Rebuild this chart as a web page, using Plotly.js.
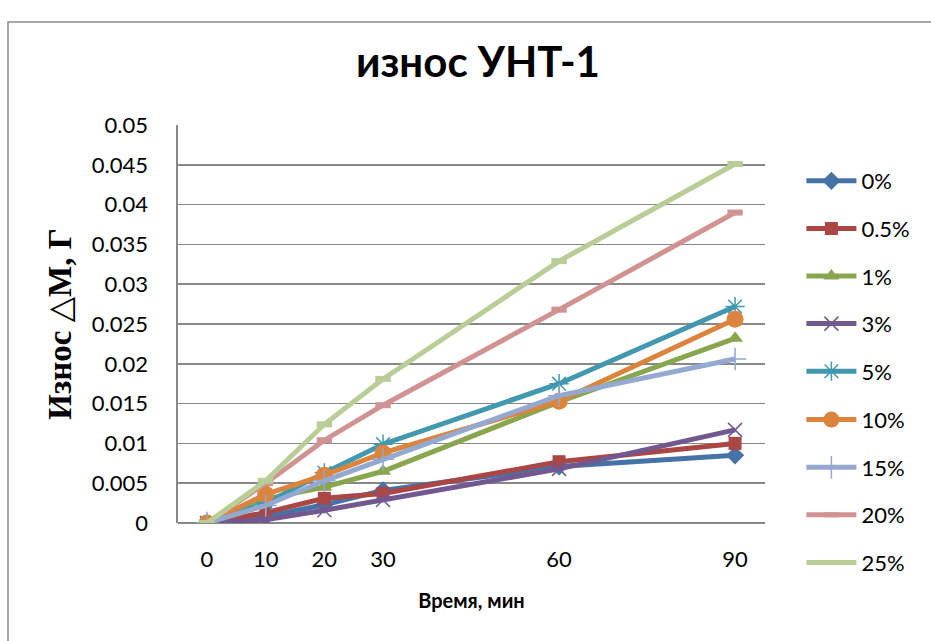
<!DOCTYPE html>
<html>
<head>
<meta charset="utf-8">
<script src="https://cdn.plot.ly/plotly-3.0.1.min.js"></script>
<style>html,body{margin:0;padding:0;background:#fff;}#chart{width:931px;height:641px;}</style>
</head>
<body>
<div id="chart"></div>
<script>
// Time, minutes
var timeMin = [0, 10, 20, 30, 60, 90];
// Wear ΔM, g per series
var seriesNames = ["0%", "0.5%", "1%", "3%", "5%", "10%", "15%", "20%", "25%"];
var s0   = [0, 0.0008, 0.0023, 0.0041, 0.0071, 0.0085];
var s05  = [0, 0.0013, 0.0031, 0.0037, 0.0077, 0.0100];
var s1   = [0, 0.0030, 0.0045, 0.0065, 0.0152, 0.0232];
var s3   = [0, 0.0004, 0.0016, 0.0029, 0.0068, 0.0117];
var s5   = [0, 0.0025, 0.0063, 0.0099, 0.0175, 0.0272];
var s10  = [0, 0.0036, 0.0060, 0.0088, 0.0153, 0.0256];
var s15  = [0, 0.0022, 0.0053, 0.0080, 0.0160, 0.0206];
var s20  = [0, 0.0050, 0.0104, 0.0148, 0.0268, 0.0390];
var s25  = [0, 0.0053, 0.0124, 0.0181, 0.0329, 0.0451];
var xTickVals = [0, 10, 20, 30, 60, 90];
var xTickText = ["0", "10", "20", "30", "60", "90"];
var yTickVals = [0, 0.005, 0.01, 0.015, 0.02, 0.025, 0.03, 0.035, 0.04, 0.045, 0.05];
var yTickText = ["0", "0.005", "0.01", "0.015", "0.02", "0.025", "0.03", "0.035", "0.04", "0.045", "0.05"];

var seriesValues = [s0, s05, s1, s3, s5, s10, s15, s20, s25];
var colors = ["#4572A7", "#AA4643", "#89A54E", "#71588F", "#4198AF", "#DB843D", "#93A9CF", "#D19392", "#B9CD96"];
var symbols = ["diamond", "square", "triangle-up", "x-thin-open", "asterisk-open", "circle", "cross-thin-open", "line-ew-open", "line-ew-open"];
var sizes = [14, 13, 14, 14, 16, 17, 16, 11, 11];

var traces = seriesNames.map(function (name, i) {
  var sym = symbols[i];
  var open = sym.indexOf("open") >= 0;
  return {
    type: "scatter",
    mode: "lines+markers",
    name: name,
    legend: i < 5 ? "legend" : "legend2",
    legendgroup: "g" + i,
    x: timeMin,
    y: seriesValues[i],
    line: { color: colors[i], width: 5 },
    marker: {
      symbol: sym,
      size: sizes[i],
      color: colors[i],
      line: { color: colors[i], width: open ? (sym.indexOf("line-ew") === 0 ? 6 : 1.5) : 0 }
    }
  };
});

var gridColor = "#888888";
var legendCommon = {
  x: 1.062, xanchor: "left",
  yanchor: "top",
  font: { size: 22 },
  traceorder: "grouped",
  tracegroupgap: 16,
  itemwidth: 50,
  bgcolor: "rgba(0,0,0,0)"
};
var legend1 = Object.assign({}, legendCommon, { y: 0.912 });
var legend2 = Object.assign({}, legendCommon, { y: 0.312 });

var layout = {
  width: 931,
  height: 641,
  paper_bgcolor: "#ffffff",
  plot_bgcolor: "#ffffff",
  margin: { l: 178, r: 166, t: 125, b: 118 },
  font: { family: "Lato, 'Open Sans', sans-serif", color: "#000000", size: 22 },
  title: {
    text: "<b>износ УНТ-1</b>",
    font: { family: "Lato, 'Open Sans', sans-serif", size: 42, color: "#000" },
    x: 0.511, xanchor: "center", xref: "paper",
    y: 68, yref: "container", yanchor: "middle"
  },
  xaxis: {
    range: [-4.94, 95.1],
    tickmode: "array",
    tickvals: xTickVals,
    ticktext: xTickText,
    showgrid: false,
    zeroline: false,
    showline: false,
    ticks: "outside",
    ticklen: 17,
    tickcolor: "rgba(0,0,0,0)",
    tickfont: { size: 22 },
    title: {
      text: "<b>Время, мин</b>",
      font: { size: 20 },
      standoff: 22
    }
  },
  yaxis: {
    range: [0, 0.05],
    tickmode: "array",
    tickvals: yTickVals,
    ticktext: yTickText,
    showgrid: true,
    gridcolor: gridColor,
    gridwidth: 1.6,
    zeroline: true,
    zerolinecolor: gridColor,
    zerolinewidth: 1.6,
    showline: true,
    linecolor: gridColor,
    linewidth: 1.6,
    ticks: "outside",
    ticklen: 24,
    tickcolor: "rgba(0,0,0,0)",
    tickfont: { size: 22 },
    title: {
      text: "<b>Износ △М, Г</b>",
      font: { family: "'Liberation Serif', 'DejaVu Serif', serif", size: 33 },
      standoff: 10
    }
  },
  showlegend: true,
  legend: legend1,
  legend2: legend2,
  shapes: [
    {
      type: "rect", xref: "paper", yref: "paper",
      x0: -0.2896, x1: 1.4, y0: -0.4, y1: 1.2588,
      line: { color: "#8a8a8a", width: 1.5 },
      fillcolor: "rgba(0,0,0,0)",
      layer: "below"
    }
  ]
};

Plotly.newPlot("chart", traces, layout, { displayModeBar: false, staticPlot: true });
</script>
</body>
</html>
